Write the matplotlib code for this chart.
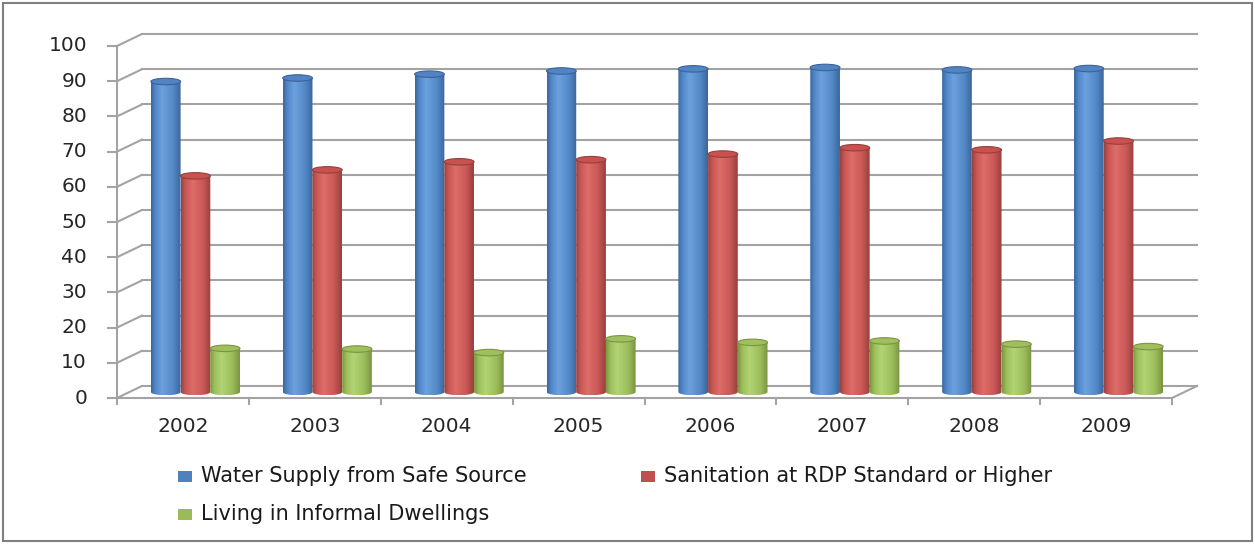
import numpy as np
import matplotlib
matplotlib.use("Agg")
import matplotlib.pyplot as plt
from matplotlib.patches import Ellipse, Polygon, Rectangle
from matplotlib.colors import LinearSegmentedColormap

years = ["2002", "2003", "2004", "2005", "2006", "2007", "2008", "2009"]
water = [88.2, 89.2, 90.3, 91.2, 91.8, 92.2, 91.5, 91.9]
sanitation = [61.4, 63.1, 65.4, 66.0, 67.6, 69.4, 68.8, 71.3]
informal = [12.4, 12.2, 11.2, 15.1, 14.1, 14.5, 13.6, 12.9]
series_names = [
    "Water Supply from Safe Source",
    "Sanitation at RDP Standard or Higher",
    "Living in Informal Dwellings",
]
y_ticks = list(range(0, 101, 10))

# shading stops for each cylinder: dark edge, mid, highlight, mid, dark edge
shades = [
    ("#3b679f", "#5289cb", "#6ca1de", "#5388c8", "#3d6699"),
    ("#9c423f", "#c95855", "#de6d6a", "#c95856", "#98403d"),
    ("#7c9a43", "#9ebf5c", "#b2d475", "#9dbd5b", "#78953f"),
]
caps = [("#5283c2", "#3a6399"), ("#c9524f", "#94403d"), ("#a0c05e", "#7a9444")]
legend_colors = ["#4f81bd", "#c0504d", "#9bbb59"]

W, H = 1255, 544
fig = plt.figure(figsize=(W / 100, H / 100), dpi=100)
ax = fig.add_axes([117 / W, (H - 398) / H, 1055 / W, 352 / H])
ax.set_axis_off()

n = len(years)
px_x = 1055 / n          # pixels per category
px_y = 352 / 100         # pixels per value unit
dx, dy = 25 / px_x, 12 / px_y   # depth offset of the back wall
grid_kw = dict(color="#a3a3a3", lw=1.5, clip_on=False, zorder=1)

# walls: back gridlines, side diagonals, front axis
for v in y_ticks:
    ax.plot([dx, n + dx], [v + dy, v + dy], **grid_kw)
    ax.plot([0, dx], [v, v + dy], **grid_kw)
    ax.plot([-9 / px_x, 0], [v, v], **grid_kw)
    ax.text(-30 / px_x, v, str(v), ha="right", va="center",
            fontsize=14.5, color="#262626", family="DejaVu Sans")
ax.plot([0, 0], [0, 100], **grid_kw)
ax.plot([0, n], [0, 0], **grid_kw)
ax.plot([n, n + dx], [0, dy], **grid_kw)
for k in range(n + 1):
    ax.plot([k, k], [0, -6 / px_y], **grid_kw)
for k, yr in enumerate(years):
    ax.text(k + 0.5, -29 / px_y, yr, ha="center", va="center",
            fontsize=14.5, color="#262626", family="DejaVu Sans")

# cylinders sit halfway between the front axis and the back wall
ox, oy = 0.5 * dx, 0.5 * dy
bw = 29.7 / px_x
eh = 6.5 / px_y
grad = np.linspace(0, 1, 64).reshape(1, -1)
theta = np.linspace(np.pi, 2 * np.pi, 50)

for i, values in enumerate([water, sanitation, informal]):
    cmap = LinearSegmentedColormap.from_list(
        f"shade{i}", list(zip([0, 0.15, 0.38, 0.75, 1.0], shades[i])))
    for k, val in enumerate(values):
        cx = k + 0.5 + (i - 1) * bw + ox
        base, top = oy, oy + val
        verts = list(zip(cx + bw / 2 * np.cos(theta), base + eh / 2 * np.sin(theta)))
        verts += [(cx + bw / 2, top), (cx - bw / 2, top)]
        body = Polygon(verts, closed=True, fc="none", ec="none")
        ax.add_patch(body)
        img = ax.imshow(grad, cmap=cmap, extent=(cx - bw / 2, cx + bw / 2, base - eh / 2, top),
                        aspect="auto", interpolation="bilinear", zorder=3 + i)
        img.set_clip_path(body)
        ax.add_patch(Ellipse((cx, top), bw, eh, fc=caps[i][0], ec=caps[i][1],
                             lw=0.8, zorder=3.5 + i))

ax.set_xlim(0, n)
ax.set_ylim(0, 100)

# legend, laid out as two rows
legend_pos = [(178, 476), (641, 476), (178, 514)]
for (lx, ly), name, col in zip(legend_pos, series_names, legend_colors):
    fig.add_artist(Rectangle((lx / W, 1 - (ly + 5.5) / H), 14 / W, 11 / H,
                             transform=fig.transFigure, fc=col, ec="none"))
    fig.text((lx + 23) / W, 1 - ly / H, name, ha="left", va="center",
             fontsize=15, color="#1a1a1a", family="DejaVu Sans")

# outer frame of the chart area
fig.add_artist(Rectangle((3 / W, 3 / H), 1249 / W, 538 / H, transform=fig.transFigure,
                         fill=False, ec="#808080", lw=1.5))

fig.savefig("out.png", dpi=100)
